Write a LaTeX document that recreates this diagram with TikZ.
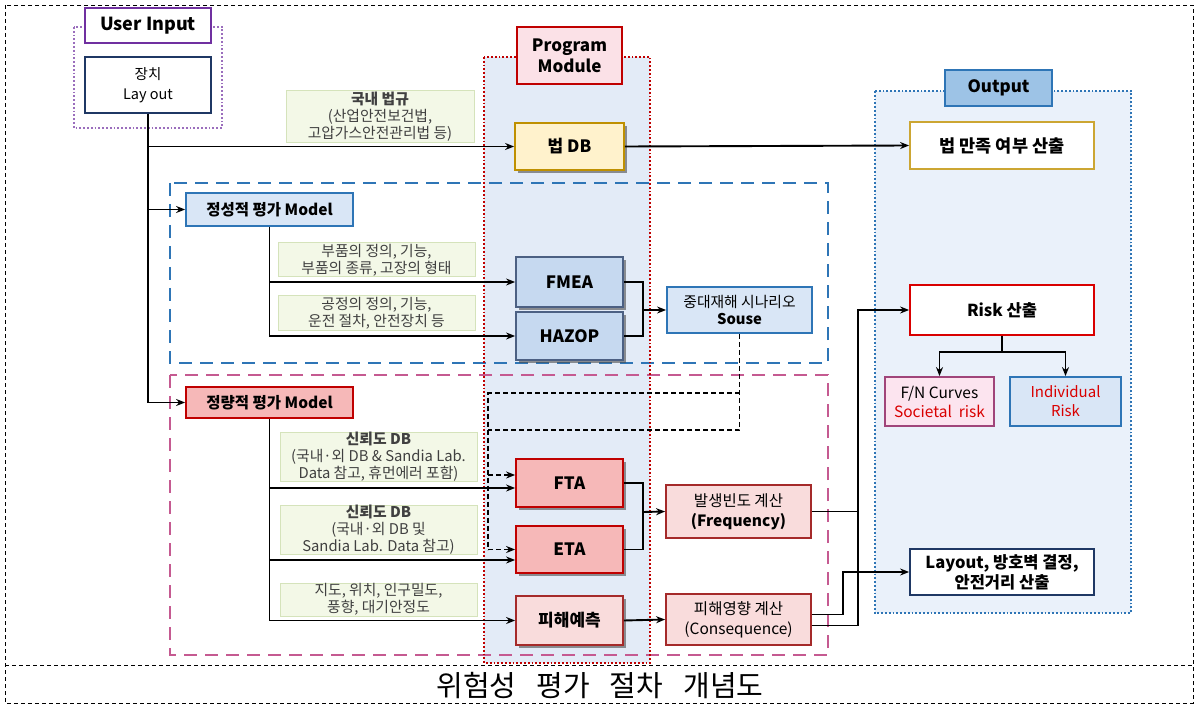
\documentclass[tikz,border=0pt]{standalone}
\usepackage{fontspec}
\setmainfont{Noto Sans CJK KR}
\usetikzlibrary{arrows.meta, positioning, shadows}
\usepackage{xcolor}
\definecolor{pmred}{HTML}{C00000}
\definecolor{pmfill}{HTML}{E3EBF7}
\definecolor{outfill}{HTML}{EAF1FA}
\definecolor{outblue}{HTML}{2E75B6}
\definecolor{outhead}{HTML}{9DC3E6}
\definecolor{uipurple}{HTML}{7030A0}
\definecolor{navy}{HTML}{1F3864}
\definecolor{gold}{HTML}{BF9000}
\definecolor{lawfill}{HTML}{FFF2CC}
\definecolor{lightblue}{HTML}{D9E6F6}
\definecolor{midblue}{HTML}{C6D9F0}
\definecolor{qpink}{HTML}{C55A91}
\definecolor{redfill}{HTML}{F6B8B8}
\definecolor{rosefill}{HTML}{F9DCDC}
\definecolor{rosedraw}{HTML}{A52A2A}
\definecolor{greenfill}{HTML}{F3F8E7}
\definecolor{greendraw}{HTML}{D5E3BB}
\definecolor{fndraw}{HTML}{A0457A}
\definecolor{fnfill}{HTML}{FCE4EF}
\def\bodyfont{\fontsize{14.8}{17}\selectfont}

\begin{document}
\begin{tikzpicture}[x=1pt,y=-1pt,line width=1.9pt,>={Stealth[length=9pt,width=7pt]}]
    \tikzstyle{box}=[draw, align=center, inner sep=0pt, line width=1.8pt, font=\bodyfont]
    \tikzstyle{title box}=[box, font=\fontsize{17}{21}\selectfont\bfseries]
    \tikzstyle{module}=[box, draw=navy!80, fill=midblue, minimum width=107pt, font=\fontsize{17}{21}\selectfont\bfseries,
        drop shadow={shadow xshift=3pt, shadow yshift=-3pt, fill=black!70, opacity=0.6}]
    \tikzstyle{red module}=[module, draw=pmred, fill=redfill]
    \tikzstyle{note}=[box, line width=1pt, draw=greendraw, fill=greenfill, text=black!75, minimum width=197pt]
    \tikzstyle{group}=[dotted, line width=1.8pt]
    \tikzstyle{frame}=[dashed, line width=0.7pt, dash pattern=on 4pt off 3pt]
    \tikzstyle{scenario}=[line width=1.8pt, dash pattern=on 5pt off 3pt]

    \useasboundingbox (0,0) rectangle (1198,708);

    % Outer frame and caption
    \draw[frame] (5,5) rectangle (1193,703);
    \draw[frame] (5,665) -- (1193,665);
    \node (cap) at (600,686) {\fontsize{29}{32}\selectfont\spaceskip=20pt 위험성 평가 절차 개념도};

    % Group backgrounds
    \fill[outfill] (875,91) rectangle (1131,613);
    \fill[pmfill] (484,57) rectangle (650,663);
    \draw[group, draw=uipurple!70] (74,27) rectangle (222,128);
    \draw[group, draw=outblue] (875,91) rectangle (1131,613);

    % Assessment model areas
    \draw[outblue, line width=2.2pt, dash pattern=on 13pt off 8pt] (170,183) rectangle (828,363);
    \draw[qpink, line width=2.2pt, dash pattern=on 13pt off 8pt] (170,375) rectangle (828,655);
    \draw[group, draw=pmred] (484,57) rectangle (650,663);

    % User input
    \node[title box, draw=uipurple, fill=white, minimum width=126pt, minimum height=35pt, font=\fontsize{18}{22}\selectfont\bfseries] (UI) at (148,25.5) {User Input};
    \node[box, draw=navy, fill=white, minimum width=126pt, minimum height=56pt, font=\fontsize{14.5}{20}\selectfont] (L) at (148,85) {장치\\Lay out};

    % Program module and output headers
    \node[title box, draw=pmred, fill=fnfill!60!rosefill, minimum width=105pt, minimum height=57pt] (PM) at (569.5,55.5) {Program\\Module};
    \node[title box, draw=outblue, fill=outhead, minimum width=107pt, minimum height=36pt] (OUT) at (998.5,88) {Output};

    % Law check
    \node[note, minimum width=188pt, minimum height=52pt] (N-1) at (380,117) {\textbf{국내 법규}\\(산업안전보건법,\\고압가스안전관리법 등)};
    \node[module, draw=gold, fill=lawfill, minimum width=109pt, minimum height=47pt] (DB) at (569.5,146.5) {법 DB};
    \node[title box, draw=gold!80, fill=white, minimum width=184pt, minimum height=47pt, font=\fontsize{17.5}{21}\selectfont\bfseries] (LAW) at (1002,145.5) {법 만족 여부 산출};

    % Qualitative model
    \node[box, draw=outblue, fill=lightblue, minimum width=167pt, minimum height=33pt, font=\fontsize{15.5}{19}\selectfont\bfseries] (QL) at (269.5,209.5) {정성적 평가 Model};
    \node[note, minimum height=34pt] (N-2) at (376.5,260) {부품의 정의, 기능,\\부품의 종류, 고장의 형태};
    \node[note, minimum height=34pt] (N-3) at (376.5,313) {공정의 정의, 기능,\\운전 절차, 안전장치 등};
    \node[module, minimum height=50pt] (FMEA) at (569.5,282) {FMEA};
    \node[module, minimum height=48pt] (HAZOP) at (569.5,336) {HAZOP};
    \node[box, draw=outblue, fill=lightblue, minimum width=145pt, minimum height=46pt] (SC) at (739.5,310) {중대재해 시나리오\\\textbf{Souse}};

    % Quantitative model
    \node[box, draw=pmred, fill=redfill, minimum width=167pt, minimum height=31pt, font=\fontsize{15.5}{19}\selectfont\bfseries] (QN) at (269.5,402.5) {정량적 평가 Model};
    \node[note, minimum height=48pt] (N-4) at (378.5,457) {\textbf{신뢰도 DB}\\(국내·외 DB \& Sandia Lab.\\Data 참고, 휴먼에러 포함)};
    \node[note, minimum height=48pt] (N-5) at (378.5,530) {\textbf{신뢰도 DB}\\(국내·외 DB 및\\Sandia Lab. Data 참고)};
    \node[note, minimum height=33pt] (N-6) at (378.5,599.5) {지도, 위치, 인구밀도,\\풍향, 대기안정도};
    \node[red module, minimum height=48pt] (FTA) at (569.5,483) {FTA};
    \node[red module, minimum height=47pt] (ETA) at (569.5,549.5) {ETA};
    \node[red module, draw=rosedraw, fill=rosefill, minimum height=49pt] (DMG) at (569.5,620.5) {피해예측};
    \node[box, draw=rosedraw, fill=rosefill, minimum width=145pt, minimum height=53pt, font=\fontsize{15.5}{20}\selectfont] (FRQ) at (738.5,511.5) {발생빈도 계산\\\textbf{(Frequency)}};
    \node[box, draw=rosedraw, fill=rosefill, minimum width=145pt, minimum height=51pt, font=\fontsize{15.5}{20}\selectfont] (CON) at (738.5,619.5) {피해영향 계산\\(Consequence)};

    % Risk results
    \node[title box, draw=red!85!black, fill=white, minimum width=184pt, minimum height=50pt, font=\fontsize{16.5}{20}\selectfont\bfseries] (RISK) at (1002,310) {Risk 산출};
    \node[box, draw=fndraw, fill=fnfill, minimum width=109pt, minimum height=49pt, font=\fontsize{15.5}{19}\selectfont] (FN) at (939.5,401.5) {F/N Curves\\\textcolor{red!85!black}{Societal\ \ risk}};
    \node[box, draw=outblue, fill=lightblue, minimum width=111pt, minimum height=49pt, font=\fontsize{15}{19}\selectfont, text=red!85!black] (IR) at (1065.5,401.5) {Individual\\Risk};
    \node[box, draw=navy, fill=white, minimum width=184pt, minimum height=46pt, font=\fontsize{16.5}{20}\selectfont\bfseries] (LAY) at (1002,572) {Layout, 방호벽 결정,\\안전거리 산출};

    % Junction points
    \coordinate (J-1) at (643,310);
    \coordinate (J-2) at (643,512);
    \coordinate (S-1) at (739.5,393);
    \coordinate (S-2) at (739.5,430);
    \coordinate (D-1) at (488,393);
    \coordinate (R-bus) at (858,310);
    \coordinate (L-bus) at (843,572);
    \coordinate (R-split) at (1002,352);

    % Connect user input to the models
    \draw[->] (L.south) |- (DB.west);
    \draw[->] (L.south) |- (QL.west);
    \draw[->] (L.south) |- (QN.west);
    \draw[->] (DB.east) -- (LAW.west);

    % Qualitative branch
    \foreach \dest in {FMEA,HAZOP}
        \draw[->] (QL.south) |- (\dest.west);
    \draw (FMEA.east) -| (J-1) |- (HAZOP.east);
    \draw[->] (J-1) -- (SC.west);

    % Scenario feeds the quantitative modules
    \draw[scenario] (SC.south) -- (S-2) -- (D-1 |- S-2);
    \draw[scenario] (S-1) -- (D-1) -- (D-1 |- ETA.west);
    \draw[scenario, ->] (D-1 |- FTA.west) ++(0,-8) -- ([yshift=8pt]FTA.west);
    \draw[scenario, ->] (D-1 |- ETA.west) -- (ETA.west);

    % Quantitative branch
    \draw[->] (QN.south) |- ([yshift=-5pt]FTA.west);
    \draw[->] (QN.south) |- ([yshift=-10.5pt]ETA.west);
    \draw[->] (QN.south) |- (DMG.west);
    \draw (FTA.east) -| (J-2) |- (ETA.east);
    \draw[->] (J-2) -- (FRQ.west);
    \draw[->] (DMG.east) -- (CON.west);

    % Results
    \draw (FRQ.east) -- (FRQ.east -| R-bus);
    \draw[->] ([yshift=-6pt]CON.east) -| (R-bus) -- (RISK.west);
    \draw[->] ([yshift=5pt]CON.east) -| (L-bus) -- (LAY.west);
    \draw (RISK.south) -- (R-split);
    \foreach \dest in {FN,IR}
        \draw[->] (R-split) -| (\dest.north);
\end{tikzpicture}
\end{document}
